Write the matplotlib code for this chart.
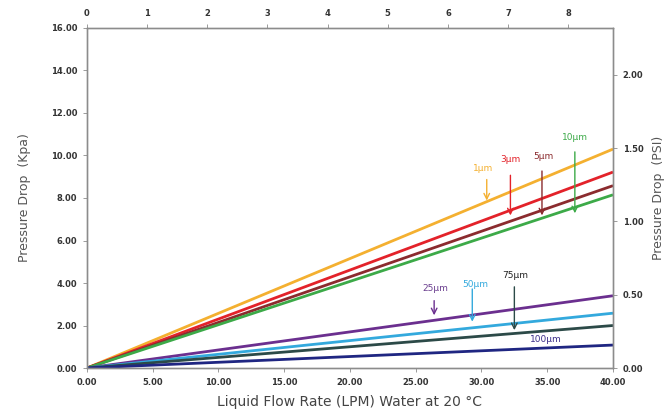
import matplotlib.pyplot as plt
import numpy as np

# flow rate (LPM) and pressure drop (kPa) for each filter rating
flow = [0, 40]
labels = ['1µm', '3µm', '5µm', '10µm', '25µm', '50µm', '75µm', '100µm']
drop_at_40 = [10.30, 9.22, 8.58, 8.15, 3.40, 2.58, 2.00, 1.08]
colors = ['#F4B030', '#E3222A', '#8B2B2E', '#3CAA48',
          '#6B2F8F', '#33A9DD', '#2C4A48', '#1F2682']
text_colors = ['#F4B030', '#E3222A', '#8B2B2E', '#3CAA48',
               '#6B3F8F', '#33A9DD', '#222222', '#3B2E8A']

# label text centres and arrow (x, y_top, y_tip) in data units
text_pos = [(30.1, 9.41), (32.2, 9.79), (34.7, 9.93), (37.1, 10.87),
            (26.5, 3.76), (29.5, 3.91), (32.6, 4.33), (34.9, 1.36)]
arrows = [(30.4, 9.0, 7.75), (32.2, 9.2, 7.05), (34.6, 9.4, 7.05), (37.1, 10.3, 7.15),
          (26.4, 3.3, 2.35), (29.3, 3.85, 2.05), (32.5, 3.95, 1.65), None]

fig = plt.figure(figsize=(6.66, 4.19), dpi=100)
ax = fig.add_axes([0.1306, 0.1217, 0.7898, 0.8115])

for v, c in zip(drop_at_40, colors):
    ax.plot(flow, [0, v], color=c, lw=2.0, solid_capstyle='butt')

for lab, tc, c, tp, ar in zip(labels, text_colors, colors, text_pos, arrows):
    ax.text(tp[0], tp[1], lab, color=tc, fontsize=6.5, ha='center', va='center')
    if ar is not None:
        ax.annotate('', xy=(ar[0], ar[2]), xytext=(ar[0], ar[1]),
                    arrowprops=dict(arrowstyle='->', color=c, lw=1.0))

ax.set_xlim(0, 40)
ax.set_ylim(0, 16)
ax.set_xticks(np.arange(0, 41, 5))
ax.set_xticklabels([f'{t:.2f}' for t in np.arange(0, 41, 5)])
ax.set_yticks(np.arange(0, 17, 2))
ax.set_yticklabels([f'{t:.2f}' for t in np.arange(0, 17, 2)])

ax_top = ax.twiny()
ax_top.set_xlim(0, 40 * 8.0 / 36.6)
ax_top.set_xticks(range(0, 9))

ax_r = ax.twinx()
ax_r.set_ylim(0, 16 * 0.145)
ax_r.set_yticks([0, 0.5, 1.0, 1.5, 2.0])
ax_r.set_yticklabels(['0.00', '0.50', '1.00', '1.50', '2.00'])

for a in (ax, ax_top, ax_r):
    for s in a.spines.values():
        s.set_color('#8C8C8C')
        s.set_linewidth(0.9)
    a.tick_params(length=3, width=0.6, color='#8C8C8C', labelsize=6,
                  labelcolor='#333333', pad=4)
for t in ax.get_xticklabels() + ax.get_yticklabels() + ax_top.get_xticklabels() + ax_r.get_yticklabels():
    t.set_fontweight('bold')

ax.set_ylabel('Pressure Drop  (Kpa)', fontsize=9, color='#555555', labelpad=14)
ax_r.set_ylabel('Pressure Drop  (PSI)', fontsize=9, color='#555555', labelpad=6)
ax.set_xlabel('Liquid Flow Rate (LPM) Water at 20 °C', fontsize=10, color='#444444', labelpad=6)

fig.savefig('out.png', dpi=100)
